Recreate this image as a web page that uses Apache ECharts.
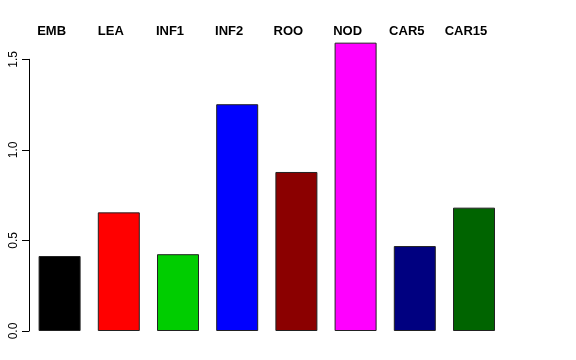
<!DOCTYPE html>
<html>
<head>
<meta charset="utf-8">
<script src="https://cdn.jsdelivr.net/npm/echarts@6/dist/echarts.min.js"></script>
<style>html,body{margin:0;padding:0;background:#fff;}#c{width:576px;height:360px;}</style>
</head>
<body>
<div id="c"></div>
<script>
var categories = ['EMB', 'LEA', 'INF1', 'INF2', 'ROO', 'NOD', 'CAR5', 'CAR15'];
var values = [0.414, 0.655, 0.424, 1.252, 0.878, 1.592, 0.469, 0.681];
var barColors = ['#000000', '#FF0000', '#00CD00', '#0000FF', '#8B0000', '#FF00FF', '#000080', '#006400'];
var yTicks = [0, 0.5, 1.0, 1.5];

var font = 'Liberation Sans, Arial, Helvetica, sans-serif';
var chart = echarts.init(document.getElementById('c'), null, {renderer: 'canvas'});
chart.setOption({
  animation: false,
  backgroundColor: '#ffffff',
  grid: [
    {left: 30, width: 473.6, top: 41.2, bottom: 29, containLabel: false},
    {left: 29, width: 474, top: 59.3, bottom: 29, containLabel: false}
  ],
  xAxis: [
    {
      type: 'category', gridIndex: 0, position: 'top', data: categories,
      axisLine: {show: false}, axisTick: {show: false},
      axisLabel: {
        show: true, interval: 0, color: '#000', fontFamily: font, fontWeight: 'bold', fontSize: 13,
        margin: 3, padding: [0, 16, 0, 0]
      }
    },
    {type: 'value', gridIndex: 1, show: false, min: 0, max: 1}
  ],
  yAxis: [
    {type: 'value', gridIndex: 0, min: 0, max: 1.6, show: false},
    {
      type: 'value', gridIndex: 1, min: yTicks[0], max: yTicks[yTicks.length - 1], interval: 0.5,
      axisLine: {show: true, lineStyle: {color: '#000', width: 1}},
      axisTick: {show: true, length: 7, lineStyle: {color: '#000'}},
      splitLine: {show: false},
      axisLabel: {
        color: '#000', fontFamily: font, fontSize: 12, rotate: 90, margin: 9,
        formatter: function (v) { return v.toFixed(1); }
      }
    }
  ],
  series: [{
    type: 'bar', xAxisIndex: 0, yAxisIndex: 0, barWidth: 42,
    data: values.map(function (v, i) {
      return {value: v, itemStyle: {color: barColors[i], borderColor: '#222', borderWidth: 1}};
    })
  }]
});
</script>
</body>
</html>
